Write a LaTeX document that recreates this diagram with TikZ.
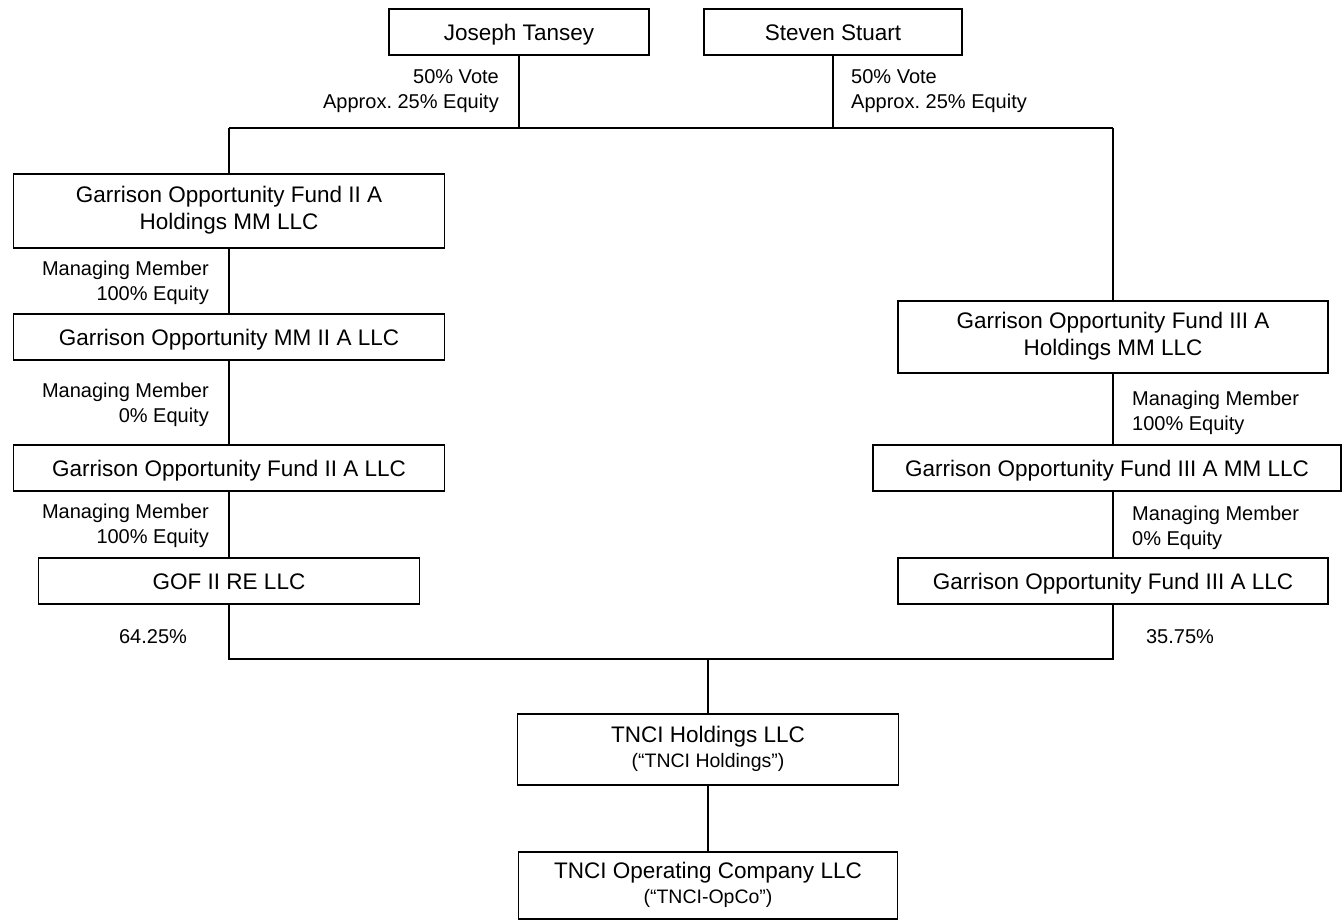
\documentclass[tikz,border=0pt]{standalone}
\usepackage{fontspec}
\setmainfont{Liberation Sans}
\frenchspacing
\newcommand\bxstrut{\rule[-6pt]{0pt}{28pt}}
\begin{document}
\begin{tikzpicture}[x=1pt,y=-1pt,
  box/.style={draw, line width=1.1pt, inner sep=0pt, align=center, font=\fontsize{22.5}{27}\selectfont,
    execute at begin node=\bxstrut, execute at end node=\bxstrut},
  lbl/.style={inner sep=0pt, font=\fontsize{20}{25}\selectfont},
  conn/.style={line width=1.1pt}]
\useasboundingbox[fill=white] (0,0) rectangle (1343,921);
% boxes
\node[box, minimum width=260pt, minimum height=46pt] (jt) at (519,32) {Joseph Tansey};
\node[box, minimum width=258pt, minimum height=46pt] (ss) at (833,32) {Steven Stuart};
\node[box, minimum width=431pt, minimum height=74pt] (g2h) at (229,211) {Garrison Opportunity Fund II A\\Holdings MM LLC};
\node[box, minimum width=431pt, minimum height=46pt] (g2mm) at (229,337) {Garrison Opportunity MM II A LLC};
\node[box, minimum width=431pt, minimum height=46pt] (g2f) at (229,468) {Garrison Opportunity Fund II A LLC};
\node[box, minimum width=381pt, minimum height=46pt] (gof) at (229,581) {GOF II RE LLC};
\node[box, minimum width=430pt, minimum height=72pt] (g3h) at (1113,337) {Garrison Opportunity Fund III A\\Holdings MM LLC};
\node[box, minimum width=468pt, minimum height=46pt] (g3mm) at (1107,468) {Garrison Opportunity Fund III A MM LLC};
\node[box, minimum width=430pt, minimum height=46pt] (g3f) at (1113,581) {Garrison Opportunity Fund III A LLC};
\node[box, minimum width=381pt, minimum height=71pt] (th) at (708,749.5) {TNCI Holdings LLC\\[-2pt]{\fontsize{19.5}{24}\selectfont(“TNCI Holdings”)}};
\node[box, minimum width=379pt, minimum height=67pt] (to) at (708,885.5) {TNCI Operating Company LLC\\[-2pt]{\fontsize{19.5}{24}\selectfont(“TNCI-OpCo”)}};
% junction coordinates
\coordinate (topL) at (229,128);
\coordinate (topR) at (1113,128);
\coordinate (botL) at (229,659);
\coordinate (botR) at (1113,659);
\coordinate (botM) at (708,659);
% connectors
\draw[conn] (jt.south) -- (jt.south |- topL);
\draw[conn] (ss.south) -- (ss.south |- topL);
\draw[conn] (topL) -- (topR);
\draw[conn] (topL) -- (g2h.north);
\draw[conn] (topR) -- (g3h.north);
\draw[conn] (g2h.south) -- (g2mm.north);
\draw[conn] (g2mm.south) -- (g2f.north);
\draw[conn] (g2f.south) -- (gof.north);
\draw[conn] (gof.south) -- (botL) -- (botR) -- (g3f.south);
\draw[conn] (g3h.south) -- (g3h.south |- g3mm.north);
\draw[conn] (g3f.north) -- (g3f.north |- g3mm.south);
\draw[conn] (botM) -- (th.north);
\draw[conn] (th.south) -- (to.north);
% labels
\node[lbl, anchor=east, align=right] (lj) at (499,91) {50\% Vote\\Approx. 25\% Equity};
\node[lbl, anchor=west, align=left] (ls) at (851,91) {50\% Vote\\Approx. 25\% Equity};
\node[lbl, anchor=east, align=right] (l1) at (209,282.5) {Managing Member\\100\% Equity};
\node[lbl, anchor=east, align=right] (l2) at (209,405) {Managing Member\\0\% Equity};
\node[lbl, anchor=east, align=right] (l3) at (209,525.5) {Managing Member\\100\% Equity};
\node[lbl, anchor=west, align=left] (r1) at (1132,412.5) {Managing Member\\100\% Equity};
\node[lbl, anchor=west, align=left] (r2) at (1132,527.5) {Managing Member\\0\% Equity};
\node[lbl] (p1) at (153,637) {64.25\%};
\node[lbl] (p2) at (1180,637) {35.75\%};
\end{tikzpicture}
\end{document}
